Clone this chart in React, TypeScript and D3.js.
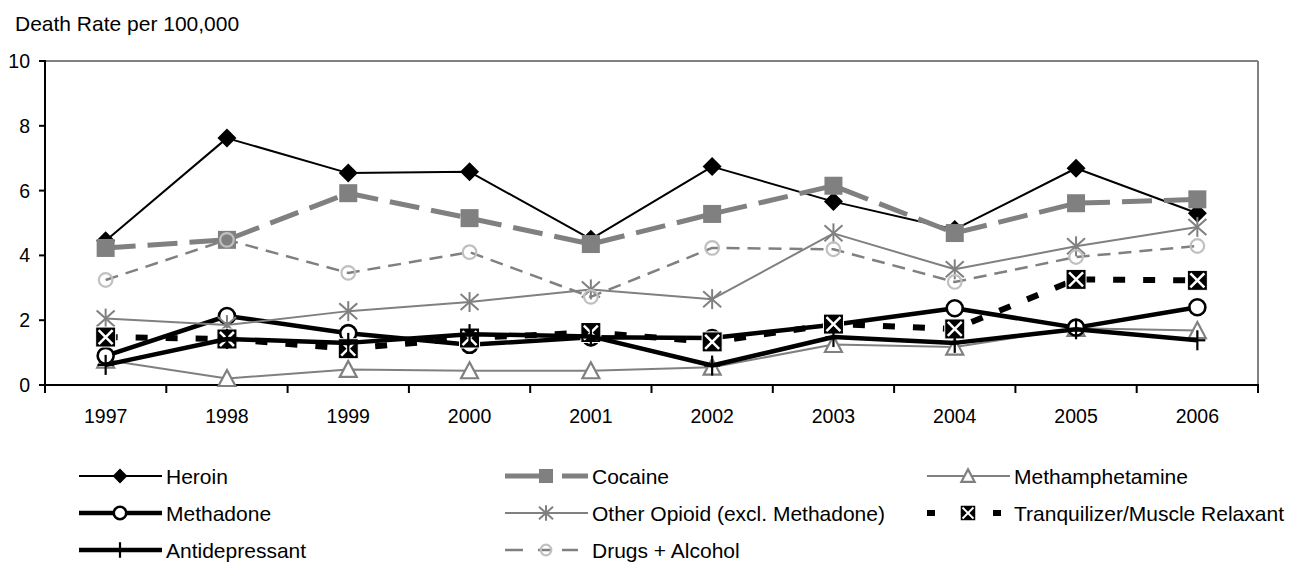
import React from "react";
import * as d3 from "d3";

const years = ["1997", "1998", "1999", "2000", "2001", "2002", "2003", "2004", "2005", "2006"];
const yTicks = [0, 2, 4, 6, 8, 10];

const heroin = [4.45, 7.62, 6.54, 6.58, 4.5, 6.74, 5.66, 4.8, 6.69, 5.3];
const cocaine = [4.23, 4.48, 5.92, 5.15, 4.35, 5.28, 6.15, 4.69, 5.61, 5.73];
const methamphetamine = [0.77, 0.2, 0.48, 0.44, 0.44, 0.55, 1.25, 1.17, 1.75, 1.68];
const methadone = [0.9, 2.13, 1.6, 1.24, 1.47, 1.45, 1.86, 2.37, 1.77, 2.4];
const otherOpioid = [2.05, 1.85, 2.28, 2.56, 2.95, 2.65, 4.68, 3.57, 4.28, 4.88];
const tranquilizer = [1.48, 1.42, 1.12, 1.45, 1.62, 1.33, 1.88, 1.73, 3.26, 3.23];
const antidepressant = [0.62, 1.42, 1.3, 1.57, 1.5, 0.6, 1.48, 1.3, 1.72, 1.38];
const drugsAlcohol = [3.24, 4.48, 3.46, 4.1, 2.72, 4.23, 4.19, 3.18, 3.95, 4.29];

type Marker = "diamond" | "square" | "triangle" | "circle" | "asterisk" | "xbox" | "plus" | "smallcircle";
interface Series {
  name: string;
  values: number[];
  color: string;
  width: number;
  dash?: string;
  legendDash?: string;
  marker: Marker;
}

const series: Series[] = [
  { name: "Heroin", values: heroin, color: "#000", width: 2, marker: "diamond" },
  { name: "Cocaine", values: cocaine, color: "#808080", width: 5, dash: "30,12", legendDash: "47,10,30", marker: "square" },
  { name: "Methamphetamine", values: methamphetamine, color: "#808080", width: 2, marker: "triangle" },
  { name: "Methadone", values: methadone, color: "#000", width: 4.5, marker: "circle" },
  { name: "Other Opioid (excl. Methadone)", values: otherOpioid, color: "#808080", width: 2, marker: "asterisk" },
  { name: "Tranquilizer/Muscle Relaxant", values: tranquilizer, color: "#000", width: 6, dash: "12,18", legendDash: "8,25", marker: "xbox" },
  { name: "Antidepressant", values: antidepressant, color: "#000", width: 4.5, marker: "plus" },
  { name: "Drugs + Alcohol", values: drugsAlcohol, color: "#808080", width: 2.5, dash: "13,8", legendDash: "18,15,14,10,16,20", marker: "smallcircle" },
];

const font = "'Liberation Sans', Arial, sans-serif";

function MarkerShape({ type, cx, cy, k }: { type: Marker; cx: number; cy: number; k: number }) {
  const s = (v: number) => v * k;
  switch (type) {
    case "diamond":
      return <path d={`M${cx},${cy - s(9.5)}L${cx + s(9.5)},${cy}L${cx},${cy + s(9.5)}L${cx - s(9.5)},${cy}Z`} fill="#000" />;
    case "square":
      return <rect x={cx - s(9)} y={cy - s(9)} width={s(18)} height={s(18)} fill="#808080" />;
    case "triangle":
      return (
        <path
          d={`M${cx},${cy - s(8.5)}L${cx + s(8.5)},${cy + s(7.5)}L${cx - s(8.5)},${cy + s(7.5)}Z`}
          fill="#fff"
          stroke="#808080"
          strokeWidth={2.2}
        />
      );
    case "circle":
      return <circle cx={cx} cy={cy} r={s(8)} fill="#fff" stroke="#000" strokeWidth={2.6} />;
    case "asterisk":
      return (
        <g stroke="#808080" strokeWidth={2}>
          <line x1={cx - s(9)} y1={cy - s(8)} x2={cx + s(9)} y2={cy + s(8)} />
          <line x1={cx - s(9)} y1={cy + s(8)} x2={cx + s(9)} y2={cy - s(8)} />
          <line x1={cx} y1={cy - s(10)} x2={cx} y2={cy + s(10)} />
        </g>
      );
    case "xbox":
      return (
        <g>
          <rect x={cx - s(10)} y={cy - s(10)} width={s(20)} height={s(20)} fill="#000" stroke="#fff" strokeWidth={1} />
          <line x1={cx - s(7)} y1={cy - s(7)} x2={cx + s(7)} y2={cy + s(7)} stroke="#fff" strokeWidth={2.5 * k} />
          <line x1={cx - s(7)} y1={cy + s(7)} x2={cx + s(7)} y2={cy - s(7)} stroke="#fff" strokeWidth={2.5 * k} />
        </g>
      );
    case "plus":
      return (
        <g stroke="#000" strokeWidth={2.2}>
          <line x1={cx} y1={cy - s(10)} x2={cx} y2={cy + s(10)} />
          <line x1={cx - s(8)} y1={cy} x2={cx + s(8)} y2={cy} />
        </g>
      );
    case "smallcircle":
      return <circle cx={cx} cy={cy} r={s(6.8)} fill="none" stroke="#c0c0c0" strokeWidth={2.2} />;
  }
  return null;
}

export default function App() {
  const left = 45, right = 1258, top = 61, bottom = 385;
  const x = d3.scaleBand<string>().domain(years).range([left, right]);
  const y = d3.scaleLinear().domain([0, 10]).range([bottom, top]);
  const cx = (yr: string) => (x(yr) as number) + x.bandwidth() / 2;
  const line = d3.line<number>().x((_, i) => cx(years[i])).y((v) => y(v));
  const boundaries = years.map((yr) => x(yr) as number).concat([right]);

  const legendCols = [79, 505, 927];
  const legendRows = [476, 513, 550];
  const legendLen = 83;

  return (
    <svg width={1296} height={563} style={{ position: "absolute", left: 0, top: 0, background: "#fff" }} fontFamily={font}>
      <text x={15} y={31} fontSize={21} fill="#000">Death Rate per 100,000</text>
      {/* plot border */}
      <line x1={left} y1={top} x2={right} y2={top} stroke="#808080" strokeWidth={2} />
      <line x1={right} y1={top} x2={right} y2={bottom} stroke="#808080" strokeWidth={2} />
      {/* y axis */}
      <line x1={left} y1={top - 1} x2={left} y2={bottom} stroke="#000" strokeWidth={2} />
      {yTicks.map((t) => (
        <g key={t}>
          <line x1={left - 6} y1={y(t)} x2={left} y2={y(t)} stroke="#000" strokeWidth={2} />
          <text x={30} y={y(t) + 7} fontSize={19.5} textAnchor="end">{t}</text>
        </g>
      ))}
      {/* x axis */}
      <line x1={left} y1={bottom} x2={right + 1} y2={bottom} stroke="#000" strokeWidth={2} />
      {boundaries.map((b, i) => (
        <line key={i} x1={b} y1={bottom} x2={b} y2={bottom + 8} stroke="#000" strokeWidth={2} />
      ))}
      {years.map((yr) => (
        <text key={yr} x={cx(yr)} y={423} fontSize={19.5} textAnchor="middle">{yr}</text>
      ))}
      {/* series */}
      {series.map((s) => (
        <g key={s.name}>
          <path d={line(s.values) || ""} fill="none" stroke={s.color} strokeWidth={s.width} strokeDasharray={s.dash} strokeLinejoin="round" />
          {s.values.map((v, i) => (
            <MarkerShape key={i} type={s.marker} cx={cx(years[i])} cy={y(v)} k={1} />
          ))}
        </g>
      ))}
      {/* legend */}
      {series.map((s, i) => {
        const lx = legendCols[i % 3];
        const ly = legendRows[Math.floor(i / 3)];
        return (
          <g key={s.name}>
            <line x1={lx} y1={ly} x2={lx + legendLen} y2={ly} stroke={s.color} strokeWidth={s.width} strokeDasharray={s.legendDash} />
            <MarkerShape type={s.marker} cx={lx + 41} cy={ly} k={0.78} />
            <text x={lx + legendLen + 4} y={ly + 8} fontSize={21}>{s.name}</text>
          </g>
        );
      })}
    </svg>
  );
}
